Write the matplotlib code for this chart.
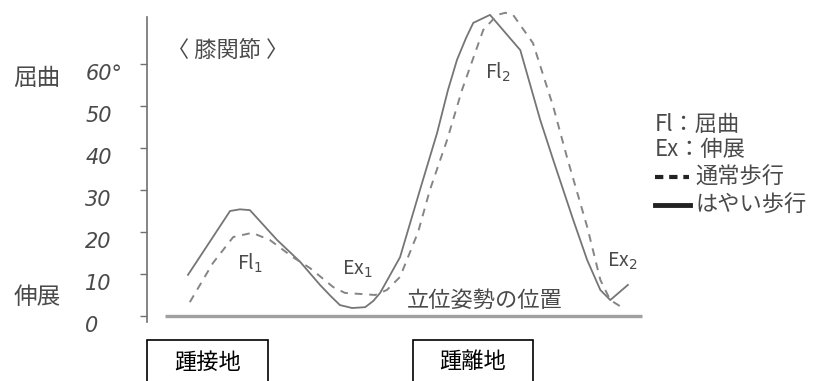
import matplotlib
matplotlib.use("Agg")
import matplotlib.pyplot as plt
from matplotlib.lines import Line2D
from matplotlib.patches import Rectangle

plt.rcParams['font.family'] = ['Noto Sans CJK JP', 'DejaVu Sans']

# gait cycle [%] and knee angle [deg]
fast_x = [0, 9.3, 11.5, 13.7, 19.7, 24.8, 29.2, 31.6, 33.6, 36.3, 39.2, 41.0,
          42.5, 46.9, 51.3, 55.1, 57.5, 59.5, 61.5, 63.1, 66.8, 73.5, 77.9,
          80.8, 85.2, 88.3, 91.2, 93.4, 97.3]
fast_y = [9.8, 25.0, 25.4, 25.2, 18.1, 12.9, 7.4, 4.7, 2.6, 1.9, 2.1, 3.6,
          5.5, 14.0, 30.0, 43.6, 53.8, 61.0, 66.2, 69.8, 71.7, 63.3, 46.7,
          37.1, 22.9, 13.3, 6.2, 3.8, 7.4]

normal_x = [0.4, 5.5, 10.0, 14.2, 18.1, 23.2, 27.0, 32.1, 34.7, 41.4, 44.0, 46.9,
            50.9, 53.5, 57.3, 60.6, 62.4, 65.3, 68.4, 70.2, 71.9, 76.3, 80.8,
            83.8, 88.3, 91.2, 93.4, 96.2]
normal_y = [3.3, 12.6, 18.8, 19.8, 18.1, 14.0, 11.4, 6.9, 5.5, 5.0, 6.2, 9.3,
            20.0, 30.0, 41.9, 53.8, 59.3, 68.1, 71.7, 72.2, 71.7, 65.0, 49.8,
            37.9, 21.2, 8.6, 3.8, 1.9]

yticks = [0, 10, 20, 30, 40, 50, 60]
ytick_labels = ["0", "10", "20", "30", "40", "50", "60°"]

phase_labels = ["Fl$_1$", "Ex$_1$", "Fl$_2$", "Ex$_2$"]
phase_x = [13.7, 37.4, 68.6, 96.0]
phase_y = [12.6, 11.0, 58.1, 12.9]

legend_texts = ["Fl：屈曲", "Ex：伸展", "通常歩行", "はやい歩行"]
box_labels = ["踵接地", "踵離地"]

W, H = 824, 381
fig = plt.figure(figsize=(W / 100, H / 100), dpi=100)
ax = fig.add_axes([147 / W, (H - 322) / H, (660 - 147) / W, (322 - 10) / H])

gray_txt = "#4a4a4a"
ax.plot(fast_x, fast_y, color="#757575", lw=1.3, solid_joinstyle="round")
ax.plot(normal_x, normal_y, color="#858585", lw=1.4, dashes=(4, 3.5))
ax.hlines(0, -5.1, 100.4, color="#a0a0a0", lw=2.4)

ax.set_xlim(-9.07, 104.4)
ax.set_ylim(-1.43, 72.86)
for s in ["top", "right", "bottom"]:
    ax.spines[s].set_visible(False)
ax.spines["left"].set_color("#707070")
ax.spines["left"].set_linewidth(1.2)
ax.spines["left"].set_bounds(-1.4, 71.2)
ax.set_xticks([])
ax.set_yticks(yticks)
ax.set_yticklabels(ytick_labels)
ax.tick_params(axis="y", length=5, width=1, color="#707070", pad=39.5,
               labelsize=15, labelcolor=gray_txt)
for lab in ax.get_yticklabels():
    lab.set_ha("left")
    lab.set_va("top")
    lab.set_family(["Liberation Sans Narrow", "DejaVu Sans"])
    lab.set_style("italic")

for lab, x, y in zip(phase_labels, phase_x, phase_y):
    ax.text(x, y, lab, ha="center", va="center", fontsize=14, color=gray_txt)

ax.text(65.7, 3.8, "立位姿勢の位置", ha="center", va="center", fontsize=16,
        color=gray_txt)
ax.text(8.8, 63.3, "〈 膝関節 〉", ha="center", va="center", fontsize=16,
        color=gray_txt)

fig.text(37 / W, 1 - 78 / H, "屈曲", ha="center", va="center", fontsize=17,
         color=gray_txt)
fig.text(37 / W, 1 - 298 / H, "伸展", ha="center", va="center", fontsize=17,
         color=gray_txt)

# legend written beside the chart
fig.text(655 / W, 1 - 124 / H, legend_texts[0], ha="left", va="center",
         fontsize=16, color=gray_txt)
fig.text(655 / W, 1 - 150 / H, legend_texts[1], ha="left", va="center",
         fontsize=16, color=gray_txt)
fig.add_artist(Line2D([655 / W, 689 / W], [1 - 177 / H, 1 - 177 / H],
                      transform=fig.transFigure, color="#222222", lw=3,
                      dashes=(2.0, 1.4)))
fig.text(695 / W, 1 - 177 / H, legend_texts[2], ha="left", va="center",
         fontsize=16, color=gray_txt)
fig.add_artist(Line2D([655 / W, 690 / W], [1 - 205 / H, 1 - 205 / H],
                      transform=fig.transFigure, color="#222222", lw=3.5))
fig.text(695 / W, 1 - 205 / H, legend_texts[3], ha="left", va="center",
         fontsize=16, color=gray_txt)

# event boxes below the axis
for lab, (x0, x1) in zip(box_labels, [(147, 268), (413, 533)]):
    fig.add_artist(Rectangle((x0 / W, -0.1), (x1 - x0) / W, (H - 340) / H + 0.1,
                             transform=fig.transFigure, fill=False,
                             edgecolor="black", lw=1.2, clip_on=False))
    fig.text((x0 + x1) / 2 / W, 1 - 362 / H, lab, ha="center", va="center",
             fontsize=16, color="black")

fig.savefig("out.png", dpi=100, facecolor="white")
